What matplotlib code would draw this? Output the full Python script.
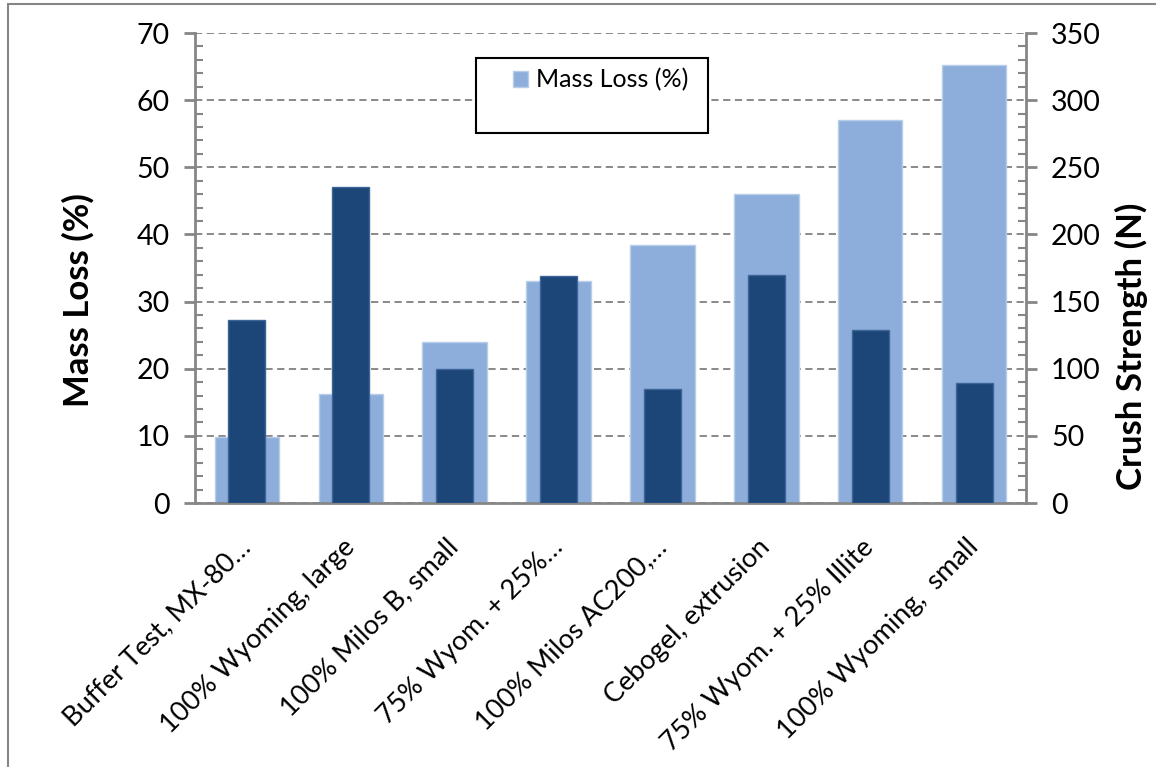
import numpy as np
import matplotlib.pyplot as plt
from matplotlib.patches import Rectangle
from matplotlib.ticker import MultipleLocator

plt.rcParams['font.family'] = ['Lato', 'DejaVu Sans']

# data
categories = ["Buffer Test, MX-80…", "100% Wyoming, large", "100% Milos B, small",
              "75% Wyom. + 25%…", "100% Milos AC200,…", "Cebogel, extrusion",
              "75% Wyom. + 25% Illite", "100% Wyoming,  small"]
mass_loss = [9.8, 16.3, 24.0, 33.1, 38.5, 46.0, 57.1, 65.3]      # %
crush_strength = [136, 235, 100, 169, 85, 170, 129, 89]          # N

light = "#8DAEDB"
dark = "#1C4678"
axis_grey = "#868686"

fig = plt.figure(figsize=(11.56, 7.67), dpi=100)
ax1 = fig.add_axes([195/1156, 1 - 503/767, (1026-195)/1156, (503-33)/767])
ax2 = ax1.twinx()

x = np.arange(len(categories))
b1 = ax1.bar(x, mass_loss, width=0.62, color=light, edgecolor="#B8CDE9",
             linewidth=1, zorder=2, label="Mass Loss (%)")
ax2.bar(x, crush_strength, width=0.356, color=dark, edgecolor="#3D6598",
        linewidth=1, zorder=2)

ax1.set_xlim(-0.5, len(categories) - 0.5)
ax1.set_ylim(0, 70)
ax2.set_ylim(0, 350)

ax1.yaxis.set_major_locator(MultipleLocator(10))
ax1.yaxis.set_minor_locator(MultipleLocator(2))
ax2.yaxis.set_major_locator(MultipleLocator(50))
ax2.yaxis.set_minor_locator(MultipleLocator(10))

ax1.grid(axis="y", which="major", color="#808080", linestyle=(0, (4, 2.5)),
         linewidth=1.3, zorder=0)
ax1.set_axisbelow(True)

for ax in (ax1, ax2):
    for s in ax.spines.values():
        s.set_color(axis_grey)
        s.set_linewidth(2)
    ax.spines["top"].set_visible(False)
ax1.spines["right"].set_visible(False)
ax2.spines["left"].set_visible(False)
ax2.spines["bottom"].set_visible(False)

ax1.tick_params(axis="y", which="major", direction="out", length=8, width=2,
                color=axis_grey, labelsize=20.5, pad=10)
ax1.tick_params(axis="y", which="minor", direction="in", length=6, width=1.5,
                color=axis_grey)
ax2.tick_params(axis="y", which="major", direction="out", length=8, width=2,
                color=axis_grey, labelsize=20.5, pad=10)
ax2.tick_params(axis="y", which="minor", direction="in", length=6, width=1.5,
                color=axis_grey)
ax1.tick_params(axis="x", length=0, pad=29)

ax1.set_xticks(x)
ax1.set_xticklabels(categories, rotation=45, ha="right", va="center",
                    rotation_mode="anchor", fontsize=19.5)

ax1.set_ylabel("Mass Loss (%)", fontsize=25, fontweight="bold", va="center")
ax1.yaxis.set_label_coords(-0.1408, 0.432)
ax2.set_ylabel("Crush Strength (N)", fontsize=25, fontweight="bold", va="center")
ax2.yaxis.set_label_coords(1.1264, 0.334)

# legend box
fig.add_artist(Rectangle((476/1156, 1 - 133/767), (708-476)/1156, (133-58)/767,
                         transform=fig.transFigure, facecolor="white",
                         edgecolor="black", linewidth=1.5, zorder=5))
leg = fig.legend(handles=[b1], labels=["Mass Loss (%)"], loc="center left",
                 bbox_to_anchor=(490/1156, 1 - 80/767), frameon=False,
                 fontsize=18, handlelength=0.6, handleheight=0.6,
                 handletextpad=0.35)
leg.set_zorder(6)

# outer chart frame
fig.add_artist(Rectangle((8/1156, -0.2), 1.2, 1.2 - 4/767,
                         transform=fig.transFigure, facecolor="none",
                         edgecolor=axis_grey, linewidth=1.5, clip_on=False))

fig.savefig("out.png", dpi=100)
